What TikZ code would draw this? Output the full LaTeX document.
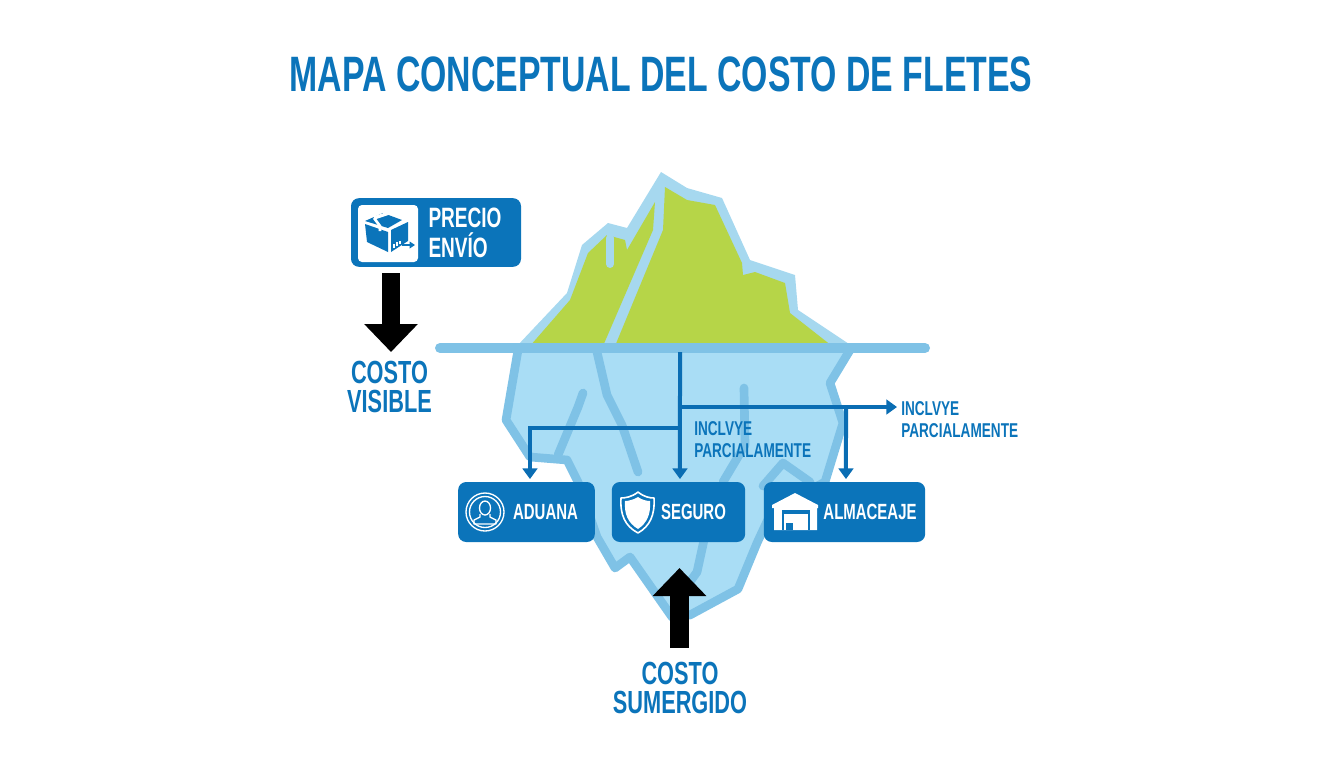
\documentclass[tikz,border=0pt]{standalone}
\usepackage{fontspec}
\setmainfont{Liberation Sans}
\newfontfamily\condfont[FakeStretch=0.68]{Liberation Sans}
\usetikzlibrary{arrows.meta}
\usetikzlibrary{positioning}
\definecolor{fleteblue}{HTML}{0B74BA}
\definecolor{linkblue}{HTML}{0A6DB3}
\definecolor{icetop}{HTML}{A6D8EF}
\definecolor{iceunder}{HTML}{A9DDF5}
\definecolor{icestroke}{HTML}{7FC2E6}
\definecolor{icegreen}{HTML}{B6D548}
\tikzset{
	costbox/.style={fill=fleteblue, rounded corners=6pt, minimum height=45pt, inner sep=0pt},
	boxtext/.style={text=white, font=\condfont\bfseries\fontsize{16.5}{16.5}\selectfont, inner sep=0pt},
	bluetext/.style={text=fleteblue, font=\condfont\bfseries\fontsize{24}{22}\selectfont, align=center, inner sep=0pt},
	smalltext/.style={text=fleteblue, font=\condfont\bfseries\fontsize{15}{16.5}\selectfont, align=left, inner sep=0pt},
	link/.style={draw=linkblue, line width=3pt, -{Triangle[length=8pt, width=11pt]}},
	bigarrow/.style={draw=black, line width=14pt, -{Triangle[length=21pt, width=39pt]}},
	icelines/.style={draw=icestroke, line width=6.5pt, line join=round, line cap=round},
}
\begin{document}
\begin{tikzpicture}[x=0.75pt,y=-0.75pt]
	\useasboundingbox (0,0) rectangle (1344,768);
	\node[text=fleteblue, font=\condfont\bfseries\fontsize{37.3}{38}\selectfont, inner sep=0pt] (title) at (661,74) {MAPA CONCEPTUAL DEL COSTO DE FLETES};

	% iceberg
	\fill[icetop] (517,346) -- (567,293) -- (582,245) -- (608,223) -- (627,228) -- (661,172) -- (687,188) -- (722,198) -- (750,260) -- (795,275) -- (798,310) -- (852,346) -- cycle;
	\fill[icegreen] (530,346) -- (570,300) -- (588,253) -- (607,235) -- (625,240) -- (627,250) -- (655,202) -- (653,230) -- (603,346) -- cycle;
	\fill[icegreen] (615,346) -- (663,230) -- (665,187) -- (687,200) -- (715,205) -- (742,263) -- (743,275) -- (755,272) -- (785,283) -- (790,313) -- (832,346) -- cycle;
	\draw[draw=icetop, line width=6pt, line cap=round] (610,238) -- (610,264);
	\path[fill=iceunder, icelines] (518,350) -- (506,420) -- (530,457) -- (567,460) -- (578,482) -- (597,537) -- (615,568) -- (630,557) -- (672,617) -- (690,615) -- (738,589) -- (757,543) -- (777,500) -- (800,495) -- (825,482) -- (843,423) -- (830,383) -- (850,350);
	\draw[icelines] (597,352) -- (607,395) -- (622,425) -- (638,472);
	\draw[icelines] (583,393) -- (578,407) -- (558,455);
	\draw[icelines] (744,388) -- (745,445) -- (723,482);
	\draw[icelines] (763,486) -- (783,463) -- (810,482);
	\draw[icelines] (704,540) -- (697,572) -- (684,590);
	\draw[draw=icestroke, line width=7.5pt, line cap=round] (440,348) -- (925,348);

	% cajas
	\node[costbox, minimum width=127.5pt, minimum height=51.5pt] (precio) at (436,232.5) {};
	\node[costbox, minimum width=102.5pt] (aduana) at (526.5,512) {};
	\node[costbox, minimum width=100pt] (seguro) at (678.5,512) {};
	\node[costbox, minimum width=121pt] (almacenaje) at (844.5,512) {};
	\node[boxtext, font=\condfont\bfseries\fontsize{21}{22}\selectfont, align=left] (preciotext) at (465,233) {PRECIO\\ENVÍO};
	\node[boxtext] (aduanatext) at (545.5,512) {ADUANA};
	\node[boxtext] (segurotext) at (693.5,512) {SEGURO};
	\node[boxtext] (almacenajetext) at (870,512) {ALMACEAJE};

	% textos
	\node[bluetext] (visible) at (389.5,387) {COSTO\\VISIBLE};
	\node[bluetext] (sumergido) at (680,688) {COSTO\\SUMERGIDO};
	\node[smalltext, anchor=west] (parcial) at (694,439.5) {INCLVYE\\PARCIALAMENTE};
	\node[smalltext, anchor=west] (parcialb) at (901,419.5) {INCLVYE\\PARCIALAMENTE};

	% conectores
	\coordinate (water) at (680,352);
	\coordinate (branchad) at (680,428);
	\coordinate (branchal) at (680,407);
	\coordinate (branchdn) at (846,407);
	\draw[link] (water) -- ([xshift=1.1pt,yshift=2pt]seguro.north);
	\draw[link] (branchad) -| ([xshift=2.6pt,yshift=2pt]aduana.north);
	\draw[link] (branchal) -- ([xshift=-3pt]parcialb.west |- branchal);
	\draw[link] (branchdn) -- ([xshift=1.1pt,yshift=2pt]almacenaje.north);

	% flechas negras
	\coordinate (vtop) at (391,273);
	\coordinate (vtip) at (391,352);
	\coordinate (stop) at (679.5,648);
	\coordinate (stip) at (679.5,568);
	\draw[bigarrow] (vtop) -- (vtip);
	\draw[bigarrow] (stop) -- (stip);

	% icono paquete
	\fill[white, rounded corners=3pt] (358,205) rectangle (418,262);
	\fill[fleteblue] (365,221) -- (383,213) -- (402,220) -- (388,228) -- cycle;
	\fill[fleteblue] (365,224) -- (388,232) -- (388,252) -- (367,242) -- cycle;
	\fill[fleteblue] (391,230) -- (408,222) -- (408,241) -- (391,252) -- cycle;
	\draw[white, line width=2.5pt] (374,218) -- (392,212);
	\draw[white, line width=2pt] (374,218) -- (380,226) -- (380,231);
	\draw[white, line width=1.2pt] (394,248) -- (394,244) (397,246) -- (397,242) (400,244) -- (400,241);
	\draw[fleteblue, line width=1.2pt, -{Triangle[length=4pt, width=5pt]}] (402,245) -- (415,245);

	% icono persona
	\draw[white, line width=1pt] (485,512) circle [radius=19];
	\draw[white, line width=1pt] (485,512) circle [radius=15.5];
	\draw[white, line width=1pt] (485,508) ellipse [x radius=5.5, y radius=7];
	\draw[white, line width=1pt, line join=round] (480,514) -- (480,517) -- (474,520) -- (474,524) -- (496,524) -- (496,520) -- (490,517) -- (490,514);

	% icono escudo
	\draw[white, line width=1.2pt, line join=round] (638,492) .. controls (644,497) and (650,498) .. (654,498) .. controls (655,515) and (650,526) .. (638,533) .. controls (625,526) and (620,515) .. (621,498) .. controls (625,498) and (632,497) .. (638,492) -- cycle;
	\fill[white] (638,497) .. controls (642,500) and (647,501) .. (650,501) .. controls (651,514) and (647,523) .. (638,529) .. controls (628,523) and (624,514) .. (625,501) .. controls (628,501) and (633,500) .. (638,497) -- cycle;

	% icono almacen
	\fill[white] (772,505) -- (795,493) -- (818,505) -- (818,508) -- (817,508) -- (817,530) -- (774,530) -- (774,508) -- (772,508) -- cycle;
	\fill[fleteblue] (782,510) rectangle (810,530);
	\fill[white] (784,514) rectangle (808,530);
	\fill[fleteblue] (786,523) rectangle (793,530);
\end{tikzpicture}
\end{document}
